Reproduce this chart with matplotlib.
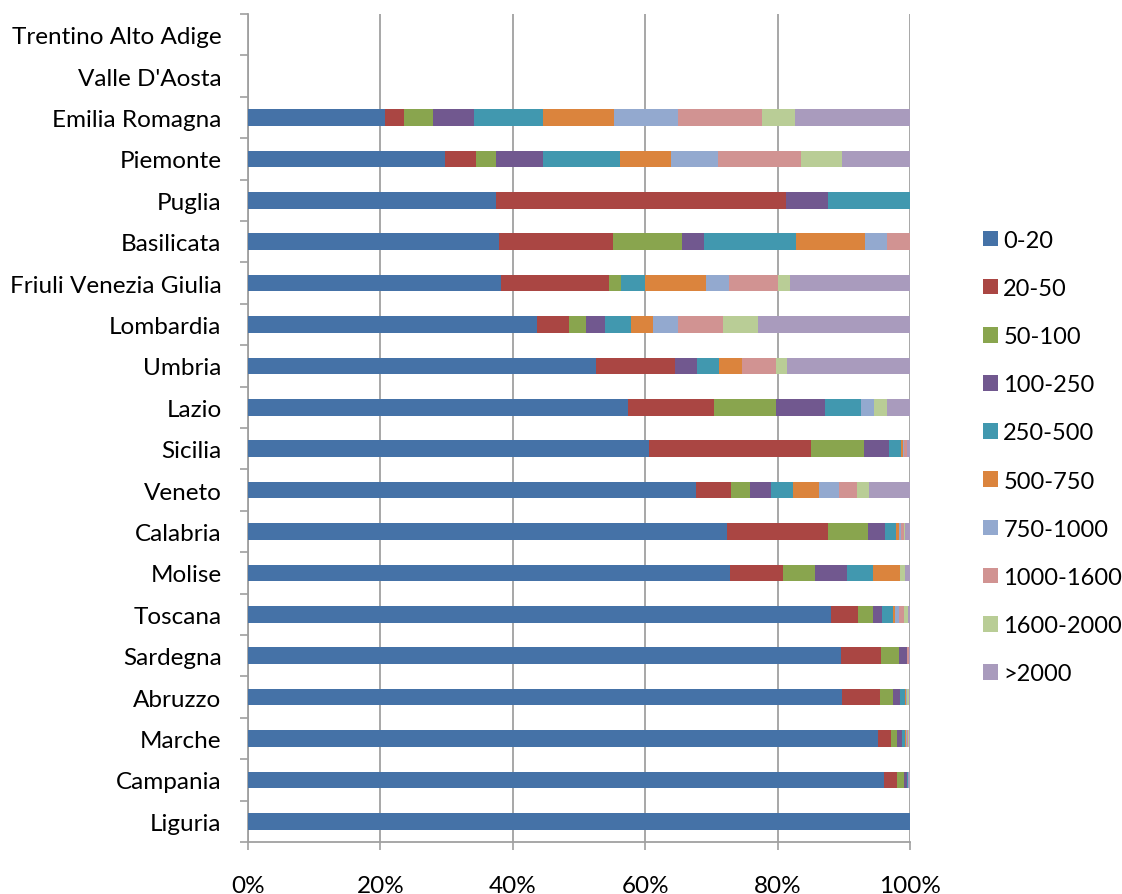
import matplotlib
matplotlib.use("Agg")
import matplotlib.pyplot as plt
from matplotlib.patches import Patch
from matplotlib.ticker import PercentFormatter, FixedLocator

plt.rcParams['font.family'] = ['Lato', 'DejaVu Sans']

regions = ["Trentino Alto Adige", "Valle D'Aosta", "Emilia Romagna", "Piemonte", "Puglia",
           "Basilicata", "Friuli Venezia Giulia", "Lombardia", "Umbria", "Lazio",
           "Sicilia", "Veneto", "Calabria", "Molise", "Toscana", "Sardegna",
           "Abruzzo", "Marche", "Campania", "Liguria"]

bins = ["0-20", "20-50", "50-100", "100-250", "250-500", "500-750",
        "750-1000", "1000-1600", "1600-2000", ">2000"]

# percentage share of each size class, one list per class (order = regions)
s_0_20      = [0, 0, 20.7, 29.8, 37.5, 37.9, 38.2, 43.7, 52.5, 57.4, 60.5, 67.7, 72.4, 72.8, 88.1, 89.6, 89.8, 95.2, 96.0, 100]
s_20_50     = [0, 0, 2.9, 4.7, 43.8, 17.2, 16.3, 4.8, 12.0, 13.0, 24.5, 5.2, 15.2, 8.0, 4.0, 6.0, 5.7, 1.9, 2.0, 0]
s_50_100    = [0, 0, 4.3, 2.9, 0, 10.5, 1.9, 2.6, 0, 9.3, 8.1, 3.0, 6.0, 4.9, 2.3, 2.8, 1.9, 0.9, 1.1, 0]
s_100_250   = [0, 0, 6.2, 7.1, 6.3, 3.3, 0, 2.8, 3.3, 7.4, 3.8, 3.1, 2.6, 4.8, 1.3, 1.1, 1.1, 0.8, 0.5, 0]
s_250_500   = [0, 0, 10.4, 11.7, 12.4, 13.9, 3.5, 4.0, 3.4, 5.5, 1.7, 3.3, 1.7, 3.9, 1.7, 0.1, 0.7, 0.4, 0.1, 0]
s_500_750   = [0, 0, 10.8, 7.7, 0, 10.4, 9.3, 3.3, 3.4, 0, 0.3, 3.9, 0.5, 4.1, 0.4, 0, 0.2, 0.2, 0, 0]
s_750_1000  = [0, 0, 9.7, 7.1, 0, 3.4, 3.5, 3.8, 0, 2.0, 0.2, 3.0, 0.3, 0, 0.6, 0, 0.1, 0.1, 0, 0]
s_1000_1600 = [0, 0, 12.6, 12.5, 0, 3.4, 7.3, 6.7, 5.1, 0, 0.4, 2.8, 0.4, 0, 0.7, 0.2, 0.1, 0.2, 0, 0]
s_1600_2000 = [0, 0, 5.0, 6.3, 0, 0, 1.8, 5.3, 1.7, 1.9, 0.1, 1.8, 0.2, 0.8, 0.6, 0, 0.2, 0.2, 0, 0]
s_2000      = [0, 0, 17.4, 10.2, 0, 0, 18.2, 23.0, 18.6, 3.5, 0.4, 6.2, 0.7, 0.7, 0.3, 0.2, 0.2, 0.1, 0.3, 0]

series = [s_0_20, s_20_50, s_50_100, s_100_250, s_250_500, s_500_750,
          s_750_1000, s_1000_1600, s_1600_2000, s_2000]

colors = ["#4572A7", "#AA4643", "#89A54E", "#71588F", "#4198AF",
          "#DB843D", "#93A9CF", "#D19392", "#B9CD96", "#A99BBD"]

W, H = 1122, 895
fig = plt.figure(figsize=(W / 100, H / 100), dpi=100)
ax = fig.add_axes([248 / W, 52 / H, (910 - 248) / W, (843 - 15) / H])

ypos = list(range(len(regions)))
left = [0.0] * len(regions)
for vals, col, lab in zip(series, colors, bins):
    ax.barh(ypos, vals, left=left, height=0.40, color=col, label=lab, zorder=3,
            edgecolor='none')
    left = [l + v for l, v in zip(left, vals)]

ax.set_xlim(0, 100)
ax.set_ylim(len(regions) - 0.5, -0.5)

grid_c = "#A0A0A0"
ax.xaxis.set_major_locator(FixedLocator([0, 20, 40, 60, 80, 100]))
ax.xaxis.set_major_formatter(PercentFormatter(decimals=0))
ax.grid(axis='x', color=grid_c, linewidth=1.3, zorder=0)
ax.tick_params(axis='x', direction='out', length=6, width=1.2, color=grid_c,
               pad=17.5, labelsize=17.5)

ax.set_yticks(ypos)
ax.set_yticklabels(regions)
ax.set_yticks([i - 0.5 for i in range(len(regions) + 1)], minor=True)
ax.tick_params(axis='y', which='major', length=0, pad=19, labelsize=17.5)
ax.tick_params(axis='y', which='minor', direction='out', length=6, width=1.2,
               color=grid_c)

for s in ['top', 'right']:
    ax.spines[s].set_visible(False)
for s in ['left', 'bottom']:
    ax.spines[s].set_color(grid_c)
    ax.spines[s].set_linewidth(1.3)

handles = [Patch(facecolor=c, edgecolor='none', label=l) for c, l in zip(colors, bins)]
fig.legend(handles=handles, loc='center left', bbox_to_anchor=(983 / W, 1 - 458 / H),
           frameon=False, fontsize=17, handlelength=0.64, handleheight=0.64,
           handletextpad=0.22, labelspacing=1.15, borderpad=0, borderaxespad=0)

fig.savefig("out.png", dpi=100)
